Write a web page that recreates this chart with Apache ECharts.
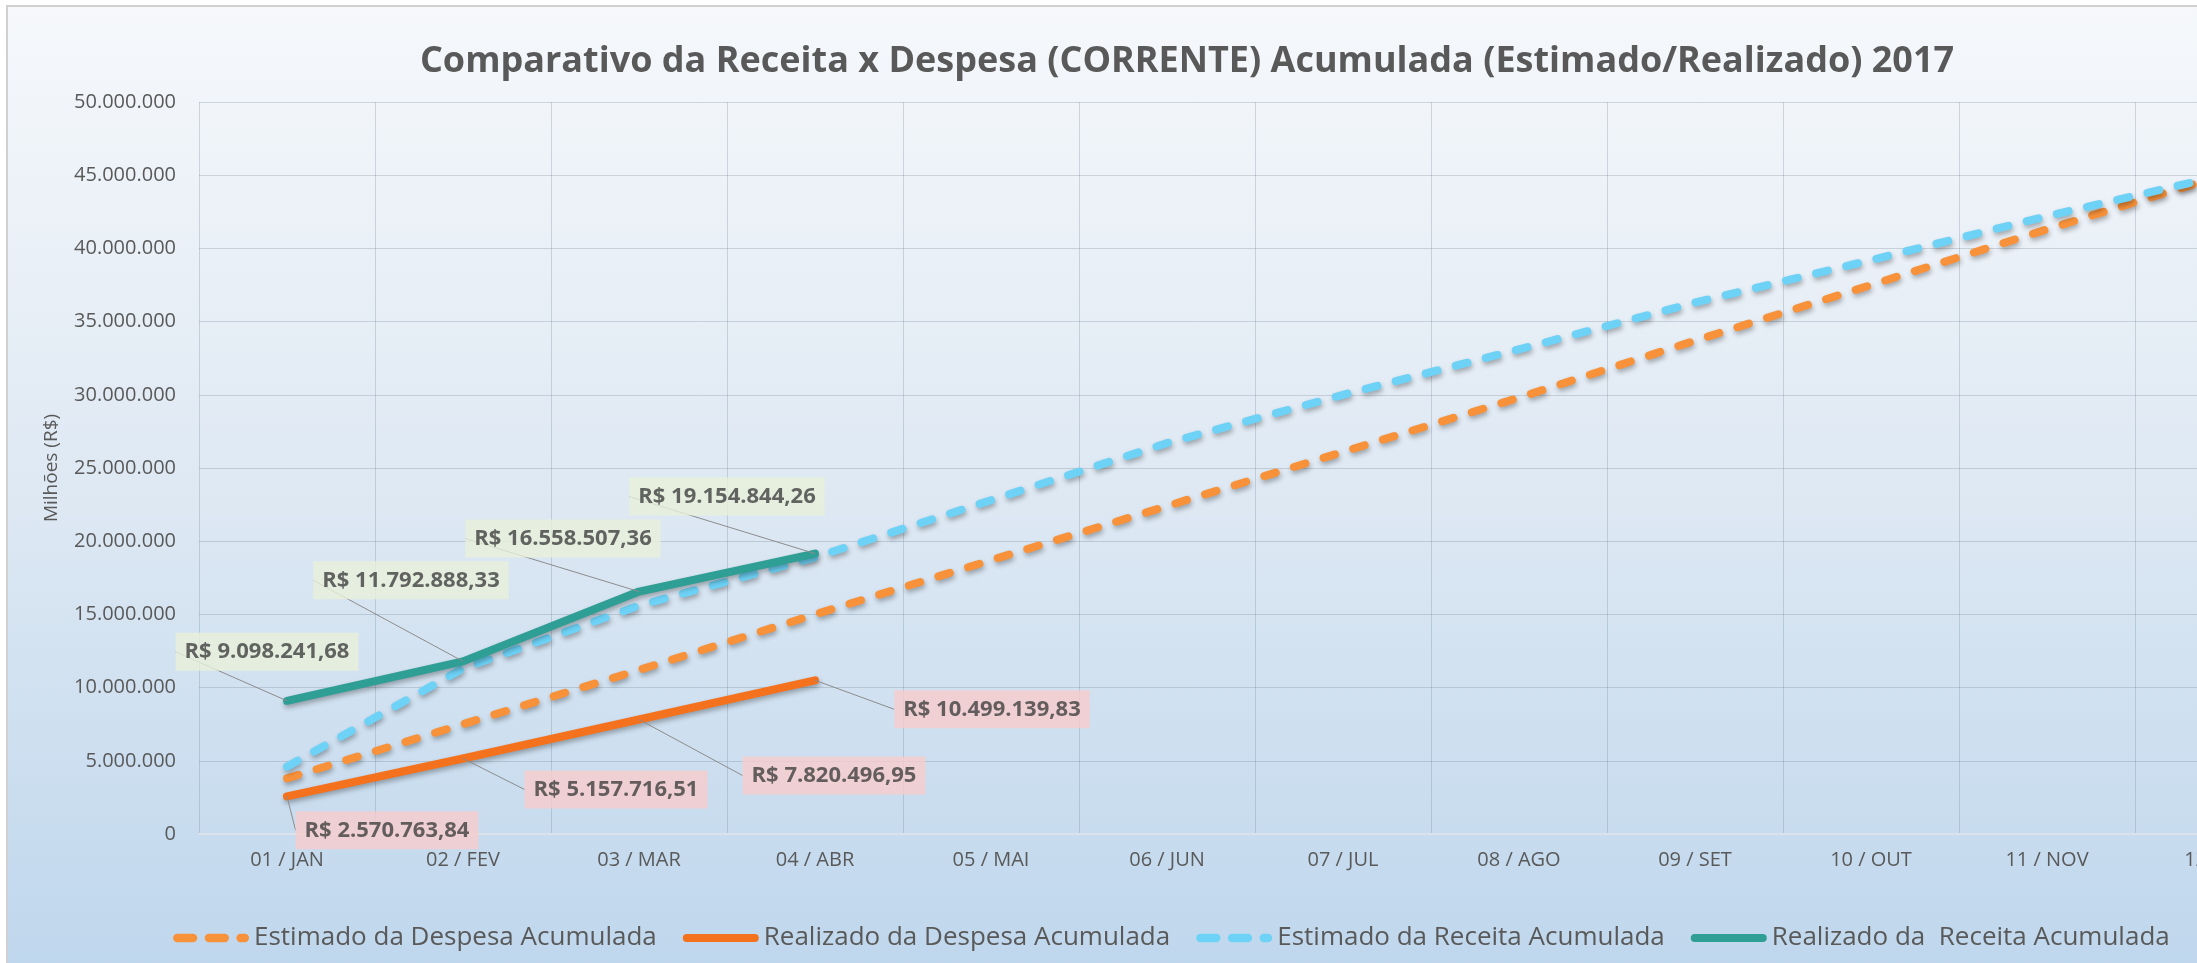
<!DOCTYPE html>
<html>
<head>
<meta charset="utf-8">
<script src="https://cdn.jsdelivr.net/npm/echarts@6/dist/echarts.min.js"></script>
<style>
html, body { margin: 0; padding: 0; background: #fff; }
#chart { width: 2197px; height: 963px; }
</style>
</head>
<body>
<div id="chart"></div>
<script>
// dados
var meses = ['01 / JAN', '02 / FEV', '03 / MAR', '04 / ABR', '05 / MAI', '06 / JUN',
             '07 / JUL', '08 / AGO', '09 / SET', '10 / OUT', '11 / NOV', '12 / DEZ'];
var despesaEstimada = [3800000, 7500000, 11200000, 15000000, 18700000, 22400000,
                       26100000, 29800000, 33700000, 37500000, 41300000, 45000000];
var despesaRealizada = [2570763.84, 5157716.51, 7820496.95, 10499139.83];
var receitaEstimada = [4600000, 11300000, 15600000, 18900000, 22800000, 26700000,
                       30000000, 33100000, 36300000, 39200000, 42200000, 45000000];
var receitaRealizada = [9098241.68, 11792888.33, 16558507.36, 19154844.26];
var nomes = ['Estimado da Despesa Acumulada', 'Realizado da Despesa Acumulada',
             'Estimado da Receita Acumulada', 'Realizado da  Receita Acumulada'];
var eixoMin = 0, eixoMax = 50000000, eixoPasso = 5000000;

// deslocamento dos rótulos em relação ao ponto
var desvioReceita = [[-20, -30], [-52, -62], [-76, -34], [-88, -38]];
var desvioDespesa = [[100, 53], [153, 50], [195, 75], [177, 48]];

var fonte = '"Open Sans", sans-serif';

// ícones da legenda (traço contínuo e tracejado)
var iconeCheio = 'path://M4,0h68a4,4 0 0 1 0,8h-68a4,4 0 0 1 0,-8z';
var iconeTraco = 'path://M4,0h15a4,4 0 0 1 0,8h-15a4,4 0 0 1 0,-8z' +
                 'M34,0h15a4,4 0 0 1 0,8h-15a4,4 0 0 1 0,-8z' +
                 'M64,0h4a4,4 0 0 1 0,8h-4a4,4 0 0 1 0,-8z';

function milhar(v) {
    return String(v).replace(/\B(?=(\d{3})+(?!\d))/g, '.');
}
function reais(v) {
    var p = v.toFixed(2).split('.');
    return 'R$ ' + milhar(p[0]) + ',' + p[1];
}

var myChart = echarts.init(document.getElementById('chart'));

var sombra = { shadowColor: 'rgba(0,0,0,0.3)', shadowBlur: 5, shadowOffsetX: 1, shadowOffsetY: 3 };

function linha(nome, dados, cor, tracejado) {
    return {
        name: nome,
        type: 'line',
        data: dados,
        symbol: 'none',
        lineStyle: Object.assign({
            color: cor,
            width: 8,
            type: tracejado ? [12, 19] : 'solid',
            cap: 'round',
            join: 'round'
        }, sombra),
        itemStyle: { color: cor }
    };
}

function rotulos(dados, fundo, desvios) {
    return {
        name: 'rotulo' + fundo,
        type: 'scatter',
        data: dados,
        symbolSize: 0,
        silent: true,
        z: 5,
        label: {
            show: true,
            position: 'top',
            distance: 0,
            formatter: function (p) { return reais(p.value); },
            backgroundColor: fundo,
            padding: [7, 9],
            fontFamily: fonte,
            fontSize: 22,
            lineHeight: 24,
            fontWeight: 'bold',
            color: '#404040'
        },
        labelLayout: function (p) {
            var d = desvios[p.dataIndex];
            return { dx: d[0], dy: d[1] };
        },
        labelLine: {
            show: true,
            lineStyle: { color: '#8c8c8c', width: 1 }
        }
    };
}

var option = {
    animation: false,
    graphic: [{
        type: 'rect',
        z: -10,
        silent: true,
        shape: { x: 7, y: 6, width: 2400, height: 1000 },
        style: {
            fill: new echarts.graphic.LinearGradient(0, 0, 0, 1, [
                { offset: 0, color: '#f6f8fb' },
                { offset: 0.5, color: '#dde8f3' },
                { offset: 1, color: '#bcd5ec' }
            ]),
            stroke: '#d0d0d0',
            lineWidth: 2
        }
    }],
    title: {
        text: 'Comparativo da Receita x Despesa (CORRENTE) Acumulada (Estimado/Realizado) 2017',
        left: 1182,
        top: 39,
        textAlign: 'center',
        textStyle: { fontFamily: fonte, fontSize: 36, fontWeight: 'bold', color: '#595959' }
    },
    legend: {
        data: [
            { name: nomes[0], icon: iconeTraco },
            { name: nomes[1], icon: iconeCheio },
            { name: nomes[2], icon: iconeTraco },
            { name: nomes[3], icon: iconeCheio }
        ],
        left: 168,
        top: 920,
        width: 2600,
        itemWidth: 76,
        itemHeight: 9,
        itemGap: 26,
        textStyle: { fontFamily: fonte, fontSize: 26, color: '#595959' }
    },
    grid: { left: 199, top: 102, width: 2112, height: 732, containLabel: false, outerBoundsMode: 'none' },
    xAxis: {
        type: 'category',
        data: meses,
        boundaryGap: true,
        axisLine: { lineStyle: { color: '#dde3ea', width: 2 } },
        axisTick: { show: false },
        axisLabel: { interval: 0, margin: 16, fontFamily: fonte, fontSize: 20, color: '#595959' },
        splitLine: { show: true, lineStyle: { color: 'rgba(120,135,150,0.3)', width: 1 } }
    },
    yAxis: {
        type: 'value',
        min: eixoMin,
        max: eixoMax,
        interval: eixoPasso,
        name: 'Milhões (R$)',
        nameLocation: 'middle',
        nameGap: 138,
        nameTextStyle: { fontFamily: fonte, fontSize: 19, color: '#595959' },
        axisLine: { show: false },
        axisTick: { show: false },
        axisLabel: {
            margin: 23,
            fontFamily: fonte,
            fontSize: 20,
            color: '#595959',
            formatter: function (v) { return milhar(v); }
        },
        splitLine: { lineStyle: { color: 'rgba(120,135,150,0.3)', width: 1 } }
    },
    series: [
        linha(nomes[0], despesaEstimada, '#f8923a', true),
        linha(nomes[1], despesaRealizada, '#f4721d', false),
        linha(nomes[2], receitaEstimada, '#6dd2f6', true),
        linha(nomes[3], receitaRealizada, '#2f9e94', false),
        rotulos(despesaRealizada, '#f8cccc', desvioDespesa),
        rotulos(receitaRealizada, '#e8f0da', desvioReceita)
    ]
};

myChart.setOption(option);
</script>
</body>
</html>
